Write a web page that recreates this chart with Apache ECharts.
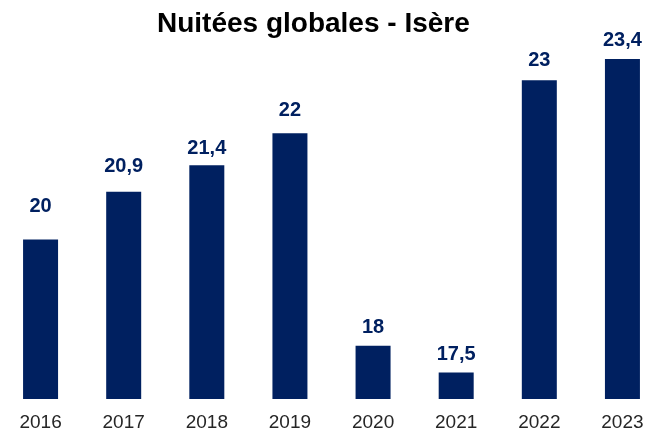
<!DOCTYPE html>
<html>
<head>
<meta charset="utf-8">
<script src="https://cdn.jsdelivr.net/npm/echarts@6/dist/echarts.min.js"></script>
<style>
html,body{margin:0;padding:0;background:#fff;}
#chart{width:658px;height:434px;}
</style>
</head>
<body>
<div id="chart"></div>
<script>
const categories = ['2016','2017','2018','2019','2020','2021','2022','2023'];
const values = [20, 20.9, 21.4, 22, 18, 17.5, 23, 23.4];
const titleText = 'Nuitées globales - Isère';
// extra vertical lift of individual value labels (pixels), as placed in the original
const labelLift = [15, 7, -1, 5, 0, 0, 2, 0];

const FONT = 'Liberation Sans, Arial, sans-serif';
const chart = echarts.init(document.getElementById('chart'), null, {renderer:'canvas'});
chart.setOption({
  animation: false,
  backgroundColor: '#ffffff',
  title: {
    text: titleText,
    left: 152,
    top: 5,
    textStyle: {fontFamily: FONT, fontWeight: 'bold', fontSize: 28, color: '#000000'}
  },
  grid: {left: -1, width: 665, top: 27, bottom: 35, containLabel: false, outerBoundsMode: 'none'},
  xAxis: {
    type: 'category',
    data: categories,
    axisLine: {show: false},
    axisTick: {show: false},
    axisLabel: {margin: 14, fontFamily: FONT, fontSize: 19, color: '#262626'}
  },
  yAxis: {
    type: 'value',
    min: 17,
    max: 24,
    show: false,
    splitLine: {show: false}
  },
  series: [{
    type: 'bar',
    data: values.map((v, i) => ({value: v, label: {offset: [0, -labelLift[i]]}})),
    barWidth: 35,
    itemStyle: {color: '#002060'},
    label: {
      show: true,
      position: 'top',
      distance: 8,
      formatter: p => String(p.value).replace('.', ','),
      fontFamily: FONT,
      fontWeight: 'bold',
      fontSize: 20,
      color: '#002060'
    }
  }]
});
</script>
</body>
</html>
